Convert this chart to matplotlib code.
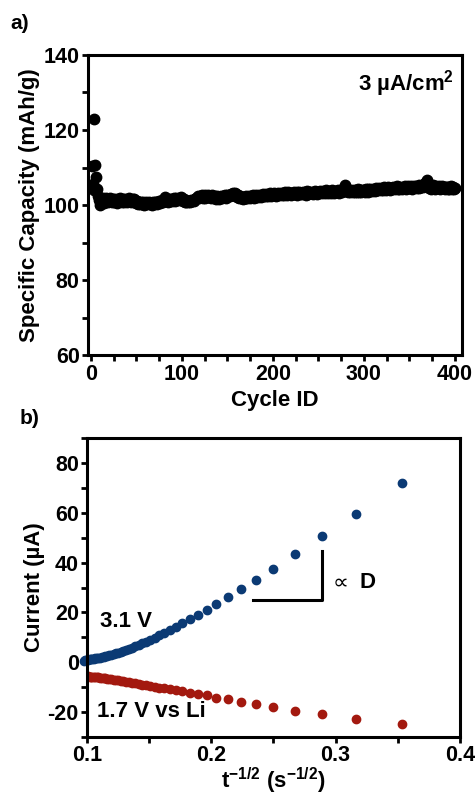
import matplotlib
matplotlib.use("Agg")
import matplotlib.pyplot as plt
from matplotlib.ticker import MultipleLocator
import numpy as np

plt.rcParams['font.family'] = ['Liberation Sans', 'DejaVu Sans']
plt.rcParams['font.weight'] = 'bold'
plt.rcParams['mathtext.fontset'] = 'custom'
plt.rcParams['mathtext.rm'] = 'Liberation Sans:bold'
plt.rcParams['mathtext.bf'] = 'Liberation Sans:bold'
plt.rcParams['mathtext.it'] = 'Liberation Sans:bold'
plt.rcParams['axes.unicode_minus'] = False

# ---- panel a: specific capacity per cycle (3 uA/cm2) ----
capacity = [
    110.5, 105.5, 104.0, 123.0, 110.7, 107.5, 104.4, 102.5, 101.3, 100.0,
    101.6, 100.8, 101.9, 101.2, 100.6, 101.5, 101.8, 101.0, 100.7, 101.4,
    101.9, 101.1, 100.8, 101.6, 101.3, 100.9, 101.7, 101.2, 100.6, 101.5,
    101.0, 101.8, 101.3, 100.7, 101.5, 101.2, 100.9, 101.6, 101.0, 100.8,
    101.4, 101.9, 101.2, 100.7, 101.3, 101.6, 100.9, 101.5, 101.1, 100.6,
    101.0, 100.4, 100.9, 100.2, 100.7, 100.3, 100.8, 100.1, 100.6, 100.4,
    100.9, 100.2, 100.5, 100.8, 100.3, 100.6, 100.1, 100.7, 100.4, 100.8,
    100.5, 100.9, 100.3, 100.7, 101.0, 100.6, 100.9, 101.3, 100.8, 101.2,
    101.6, 102.2, 101.0, 101.4, 100.9, 101.5, 101.2, 101.7, 101.1, 101.4,
    101.8, 101.2, 101.6, 102.0, 101.3, 101.7, 101.9, 101.4, 102.1, 101.5,
    101.2, 101.6, 100.9, 101.3, 100.8, 101.1, 100.7, 101.2, 100.9, 101.3,
    101.0, 101.4, 101.2, 101.7, 101.5, 102.0, 101.8, 102.3, 101.9, 102.4,
    102.1, 102.6, 102.0, 102.3, 102.7, 101.9, 102.5, 102.2, 102.8, 102.1,
    102.4, 102.0, 102.6, 102.2, 101.8, 102.5, 102.1, 101.7, 102.3, 102.0,
    101.6, 102.2, 102.5, 101.9, 102.4, 102.1, 102.7, 102.3, 101.9, 102.6,
    102.3, 102.8, 102.4, 103.0, 102.6, 103.2, 102.7, 103.1, 102.5, 102.9,
    102.2, 102.6, 101.9, 102.3, 101.8, 102.1, 101.7, 102.2, 101.9, 102.0,
    102.3, 101.8, 102.2, 102.5, 101.9, 102.4, 102.1, 102.6, 102.0, 102.3,
    102.7, 102.2, 102.5, 102.1, 102.8, 102.4, 102.2, 102.6, 102.9, 102.3,
    102.7, 102.4, 103.0, 102.6, 102.3, 102.8, 103.1, 102.5, 102.9, 102.6,
    103.2, 102.7, 102.4, 103.0, 102.8, 103.3, 102.6, 102.9, 103.1, 102.7,
    103.2, 102.8, 103.4, 102.9, 102.6, 103.1, 103.5, 102.9, 103.2, 102.7,
    103.3, 103.0, 103.6, 102.9, 103.2, 103.4, 102.8, 103.1, 103.5, 103.0,
    103.3, 102.9, 103.6, 103.1, 103.4, 102.8, 103.2, 103.7, 103.0, 103.4,
    103.1, 103.6, 103.3, 102.9, 103.5, 103.8, 103.2, 103.4, 103.0, 103.6,
    103.3, 103.8, 103.4, 103.1, 103.7, 103.5, 103.2, 103.9, 103.4, 103.6,
    103.1, 103.8, 103.5, 103.3, 103.9, 103.6, 103.2, 103.7, 103.4, 103.8,
    103.5, 103.9, 103.3, 103.7, 104.1, 103.6, 104.2, 104.6, 105.4, 104.4,
    103.8, 104.0, 103.5, 103.9, 103.6, 104.1, 103.7, 103.4, 103.9, 103.6,
    104.0, 103.5, 103.8, 104.2, 103.6, 103.9, 103.4, 104.1, 103.7, 104.0,
    103.6, 104.3, 103.9, 103.5, 104.2, 103.8, 104.4, 104.0, 103.7, 104.3,
    104.1, 103.8, 104.5, 104.0, 104.3, 103.9, 104.6, 104.2, 103.9, 104.5,
    104.1, 104.7, 104.3, 104.0, 104.6, 104.2, 104.8, 104.4, 104.1, 104.6,
    104.3, 104.9, 104.5, 104.2, 104.8, 105.1, 104.4, 104.7, 104.3, 104.9,
    104.6, 104.2, 104.8, 104.5, 105.0, 104.4, 104.7, 105.1, 104.5, 104.8,
    104.6, 105.0, 104.4, 104.9, 105.2, 104.7, 105.0, 104.5, 104.9, 105.3,
    104.6, 105.0, 104.8, 105.2, 104.7, 105.4, 105.8, 106.2, 106.6, 105.5,
    105.0, 104.6, 105.2, 104.4, 104.9, 105.3, 104.7, 104.3, 105.0, 104.6,
    104.9, 104.5, 105.2, 104.4, 104.8, 105.1, 104.5, 104.9, 104.3, 104.7,
    104.9, 104.4, 104.8, 104.2, 104.6, 105.0, 104.3, 104.7, 104.4, 104.5,
]
cycle_id = np.arange(1, len(capacity) + 1)

# ---- panel b: current vs t^-1/2 ----
t_ox = [8, 10, 12, 14, 16, 18, 20, 22, 24, 26, 28, 30, 32, 34, 36, 38, 40,
        42, 44, 46, 48, 50, 52, 54, 56, 58, 60, 62, 64, 66, 68, 70, 72, 74,
        76, 78, 80, 82, 84, 86, 88, 90, 92, 94, 96, 98, 100, 102, 104, 106]
i_ox = [71.8, 59.4, 50.6, 43.6, 37.6, 33.1, 29.4, 26.0, 23.4, 21.0, 19.0,
        17.3, 15.7, 14.3, 13.0, 11.9, 10.8, 9.9, 9.1, 8.3, 7.6, 7.0, 6.4,
        5.9, 5.4, 5.0, 4.6, 4.2, 3.9, 3.6, 3.3, 3.0, 2.8, 2.6, 2.4, 2.2,
        2.0, 1.9, 1.7, 1.6, 1.5, 1.4, 1.3, 1.2, 1.1, 1.0, 0.9, 0.8, 0.7, 0.6]
t_red = [8, 10, 12, 14, 16, 18, 20, 22, 24, 26, 28, 30, 32, 34, 36, 38, 40,
         42, 44, 46, 48, 50, 52, 54, 56, 58, 60, 62, 64, 66, 68, 70, 72, 74,
         76, 78, 80, 82, 84, 86, 88, 90, 92, 94, 96, 98, 100]
i_red = [-24.6, -22.8, -20.7, -19.5, -18.0, -16.7, -15.9, -14.9, -14.2,
         -13.3, -12.7, -12.2, -11.7, -11.3, -10.9, -10.5, -10.2, -9.9, -9.6,
         -9.3, -9.0, -8.8, -8.5, -8.3, -8.1, -7.9, -7.7, -7.5, -7.3, -7.2,
         -7.0, -6.9, -6.7, -6.6, -6.5, -6.4, -6.3, -6.2, -6.1, -6.0, -5.95,
         -5.9, -5.85, -5.8, -5.75, -5.7, -5.65]

blue = '#0b3a74'
red = '#a3190f'

fig = plt.figure(figsize=(4.76, 7.95), dpi=100)
ax1 = fig.add_axes([0.185, 0.553, 0.786, 0.378])
ax2 = fig.add_axes([0.183, 0.073, 0.783, 0.376])

def style(ax):
    for s in ax.spines.values():
        s.set_linewidth(2.2)
    ax.tick_params(which='both', direction='out', length=4, width=2,
                   labelsize=15.5, pad=2)
    for lab in ax.get_xticklabels() + ax.get_yticklabels():
        lab.set_fontweight('bold')

ax1.plot(cycle_id, capacity, 'o', color='black', markersize=7.5)
ax1.set_xlim(-3, 408)
ax1.set_ylim(60, 140)
ax1.xaxis.set_major_locator(MultipleLocator(100))
ax1.xaxis.set_minor_locator(MultipleLocator(25))
ax1.yaxis.set_major_locator(MultipleLocator(20))
ax1.yaxis.set_minor_locator(MultipleLocator(10))
style(ax1)
ax1.set_xlabel('Cycle ID', fontsize=16, fontweight='bold', labelpad=4)
ax1.set_ylabel('Specific Capacity (mAh/g)', fontsize=16, fontweight='bold',
               labelpad=3)
ax1.text(0.978, 0.905, r'3 µA/cm$^{2}$', transform=ax1.transAxes,
         ha='right', va='center', fontsize=16, fontweight='bold')

ax2.plot(np.array(t_ox) ** -0.5, i_ox, 'o', color=blue, markersize=6,
         clip_on=False)
ax2.plot(np.array(t_red) ** -0.5, i_red, 'o', color=red, markersize=6)
ax2.plot([0.2335, 0.289, 0.289], [25, 25, 44.5], color='black', lw=2.2)
ax2.set_xlim(0.1, 0.4)
ax2.set_ylim(-30, 90)
ax2.xaxis.set_major_locator(MultipleLocator(0.1))
ax2.xaxis.set_minor_locator(MultipleLocator(0.05))
ax2.yaxis.set_major_locator(MultipleLocator(20))
ax2.yaxis.set_minor_locator(MultipleLocator(10))
style(ax2)
ax2.set_xlabel(r't$^{-1/2}$ (s$^{-1/2}$)', fontsize=16, fontweight='bold',
               labelpad=0)
ax2.set_ylabel('Current (µA)', fontsize=16, fontweight='bold', labelpad=2)
ax2.text(0.1105, 16.3, '3.1 V', fontsize=16, fontweight='bold', va='center')
ax2.text(0.108, -19.6, '1.7 V vs Li', fontsize=16, fontweight='bold',
         va='center')
ax2.text(0.2975, 32, '\u221d', fontsize=16, fontweight='normal',
         va='center', family=['DejaVu Sans'])
ax2.text(0.3195, 32, 'D', fontsize=16, fontweight='bold', va='center')

fig.text(0.021, 0.970, 'a)', fontsize=15, fontweight='bold', va='center')
fig.text(0.042, 0.474, 'b)', fontsize=15, fontweight='bold', va='center')

fig.savefig('out.png', dpi=100)
